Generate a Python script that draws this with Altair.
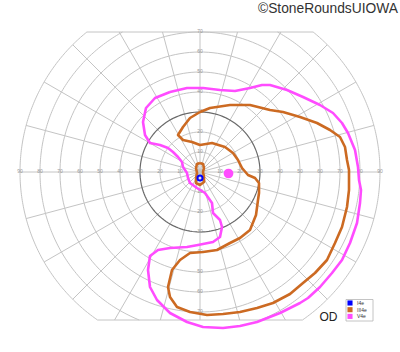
import numpy as np
import pandas as pd
import altair as alt

# ---------------- data (degrees; x: right +, y: up +) ----------------
iii4e_x = [0, -5, -8.5, -11, -8.5, -4, 0, 6, 12.5, 16.5, 19, 21, 24, 27.5, 29.5, 29.5, 29, 28, 25, 20, 15, 8.5,
           1.5, -5, -10, -14, -16, -15, -11.5, -5, 3.5, 11.5, 20, 28.5, 36.5, 45, 51.5, 57.5, 63.5, 67.5, 71, 73.5,
           74.5, 74.5, 73.5, 72.5, 70, 65, 58.5, 50, 41.5, 35, 25, 15, 5, 0]
iii4e_y = [30, 27, 22.5, 18.5, 16, 15, 13.5, 14.5, 12.5, 9.5, 6, 2, -1.5, -3, -5.5, -10.5, -14, -21.5, -29, -33,
           -35.5, -39, -40, -40.5, -44, -49, -57.5, -62.5, -67.5, -70, -71.5, -71, -70, -68, -65.5, -61, -55.5,
           -50.5, -44, -35.5, -27.5, -17.5, -9, 1, 6, 12.5, 17.5, 21, 24.5, 27.5, 30, 31, 33.5, 33.5, 32, 30]

iii4e_island_x = [0, 1.5, 2, 1.5, 2, 2, 0, -2, -2, -1.5, -2, -1.5, 0]
iii4e_island_y = [4.5, 4, 2, 0, -2.5, -5, -6.5, -5.5, -3, -0.5, 2, 4, 4.5]

v4e_x = [-15, -6.5, 1.5, 10, 17.5, 25, 31, 35, 43.5, 51.5, 60, 66.5, 71, 74, 77.5, 79, 79.5, 80.5, 80, 78.5, 75,
         71, 66, 60, 54, 50, 40, 28.5, 20, 11.5, 1.5, -6.5, -15, -21.5, -25, -26, -25, -21, -15, -6.5, -1, 6.5,
         10, 11, 10, 6.5, 6, 2.5, -1.5, -5, -6, -6.5, -8.5, -9, -11, -13.5, -16, -20, -25, -27.5, -28.5, -27,
         -22.5, -15]
v4e_y = [40, 42, 42, 41, 40.5, 42, 43.5, 43.5, 41, 37.5, 33.5, 29.5, 24.5, 19.5, 11, 2.5, -4, -9, -15.5, -25.5,
         -35.5, -44, -50.5, -57.5, -63, -65.5, -70.5, -75, -77, -78, -77.5, -75, -70.5, -64, -57.5, -49, -42, -39,
         -38, -37.5, -36.5, -35, -32.5, -27.5, -24, -20.5, -15.5, -10.5, -8, -5.5, -3, -0.5, 2.5, 5, 7.5, 10, 12,
         13.5, 14.5, 18.5, 25, 32, 37, 40]

i4e_center = (0.0, -3.0)
blind_spot = (14.25, -0.75)

series = ["I4e", "III4e", "V4e"]
colors = ["#0000FF", "#CC6A22", "#FF4CFF"]

ring_radii = [10, 20, 30, 40, 50, 60, 70, 80, 90]
h_labels = [10, 20, 30, 40, 50, 60, 70, 80, 90]
v_labels = [10, 20, 30, 40, 50, 60, 70]
TOP, BOTTOM, OUTER = 70, 74, 90

# ---------------- grid geometry ----------------
rows = []
seg = 0
for r in ring_radii:
    a_top = np.arcsin(min(1, TOP / r))
    a_bot = np.arcsin(min(1, BOTTOM / r))
    if r <= TOP:
        arcs = [(0, 2 * np.pi)]
    else:
        arcs = [(-a_bot, a_top), (np.pi - a_top, np.pi + a_bot)]
    for a0, a1 in arcs:
        for k, t in enumerate(np.linspace(a0, a1, 160)):
            rows.append({"x": r * np.cos(t), "y": r * np.sin(t), "seg": seg, "o": k,
                         "dark": r == 30})
        seg += 1
for yy in (TOP, -BOTTOM):
    hw = np.sqrt(OUTER ** 2 - yy ** 2)
    rows.append({"x": -hw, "y": yy, "seg": seg, "o": 0, "dark": False})
    rows.append({"x": hw, "y": yy, "seg": seg, "o": 1, "dark": False})
    seg += 1
for deg in range(0, 360, 15):
    t = np.radians(deg)
    s = np.sin(t)
    rend = OUTER
    if s > 1e-9:
        rend = min(OUTER, TOP / s)
    elif s < -1e-9:
        rend = min(OUTER, BOTTOM / -s)
    rows.append({"x": 0.0, "y": 0.0, "seg": seg, "o": 0, "dark": False})
    rows.append({"x": rend * np.cos(t), "y": rend * s, "seg": seg, "o": 1, "dark": False})
    seg += 1
grid = pd.DataFrame(rows)

labels = ([{"x": s * d, "y": 0, "t": str(d)} for d in h_labels for s in (-1, 1)] +
          [{"x": 0, "y": s * d, "t": str(d)} for d in v_labels for s in (-1, 1)])
labels = pd.DataFrame(labels)

iso = pd.concat([
    pd.DataFrame({"x": iii4e_x, "y": iii4e_y, "iso": "III4e", "grp": "a", "o": range(len(iii4e_x))}),
    pd.DataFrame({"x": iii4e_island_x, "y": iii4e_island_y, "iso": "III4e", "grp": "b",
                  "o": range(len(iii4e_island_x))}),
    pd.DataFrame({"x": v4e_x, "y": v4e_y, "iso": "V4e", "grp": "c", "o": range(len(v4e_x))}),
])

X = alt.X("x:Q", scale=alt.Scale(domain=[-100, 100], nice=False, zero=False), axis=None)
Y = alt.Y("y:Q", scale=alt.Scale(domain=[-90, 86], nice=False, zero=False), axis=None)
cscale = alt.Scale(domain=series, range=colors)

light = alt.Chart(grid[~grid.dark]).mark_line(color="#c4c4c4", strokeWidth=1).encode(
    x=X, y=Y, detail="seg:N", order="o:Q")
dark = alt.Chart(grid[grid.dark]).mark_line(color="#6a6a6a", strokeWidth=1.2).encode(
    x=X, y=Y, detail="seg:N", order="o:Q")
lab = alt.Chart(labels).mark_text(fontSize=5, color="#999999", dy=-1, font="Liberation Sans").encode(
    x=X, y=Y, text="t:N")

lines = alt.Chart(iso).mark_line(strokeWidth=2.6, strokeJoin="round").encode(
    x=X, y=Y, detail="grp:N", order="o:Q",
    color=alt.Color("iso:N", scale=cscale, legend=None))

bs = alt.Chart(pd.DataFrame({"x": [blind_spot[0]], "y": [blind_spot[1]]})).mark_circle(
    color=colors[2], opacity=1, size=95).encode(x=X, y=Y)
i4 = alt.Chart(pd.DataFrame({"x": [i4e_center[0]], "y": [i4e_center[1]]})).mark_point(
    color=colors[0], filled=False, size=26, strokeWidth=2, opacity=1).encode(x=X, y=Y)

# ---------------- legend (drawn by hand, small box at lower right) ----------------
leg_box = alt.Chart(pd.DataFrame({"k": [0]})).mark_rect(
    fill="white", stroke="#b5b5b5", strokeWidth=0.8).encode(
    x=alt.value(346), x2=alt.value(373), y=alt.value(299.5), y2=alt.value(321))
leg_layers = [leg_box]
for i, (s, c) in enumerate(zip(series, colors)):
    yy = 303 + i * 6.7
    df = pd.DataFrame({"t": [s]})
    leg_layers.append(alt.Chart(df).mark_square(color=c, opacity=1, size=26).encode(
        x=alt.value(350), y=alt.value(yy)))
    leg_layers.append(alt.Chart(df).mark_text(fontSize=5, color="#333333", align="left",
                                              baseline="middle", font="Liberation Sans").encode(
        x=alt.value(357), y=alt.value(yy), text="t:N"))

txt = pd.DataFrame({"t": ["©StoneRoundsUIOWA"]})
title = alt.Chart(txt).mark_text(fontSize=13.8, color="#333333", align="right", baseline="middle",
                                  font="Liberation Sans").encode(
    x=alt.value(398), y=alt.value(8.5), text="t:N")
od = alt.Chart(pd.DataFrame({"t": ["OD"]})).mark_text(fontSize=12, color="#222222", align="center",
                                                      baseline="middle", font="Liberation Sans").encode(
    x=alt.value(328.5), y=alt.value(316.5), text="t:N")

chart = alt.layer(light, dark, lab, lines, bs, i4, *leg_layers, title, od).properties(
    width=400, height=352, autosize="none", padding=0
).configure_view(stroke=None)

chart.save("out.html", embed_options={"renderer": "svg", "actions": False})
